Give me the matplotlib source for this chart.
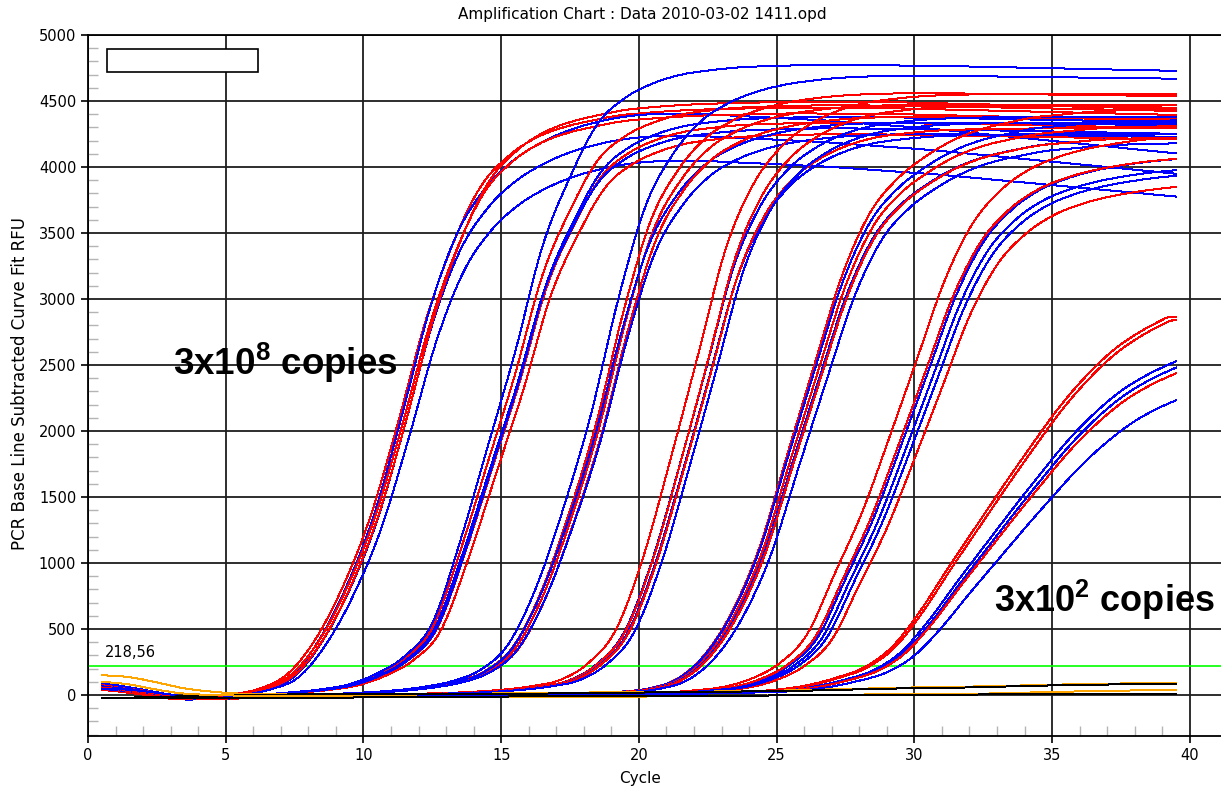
import numpy as np
import matplotlib
matplotlib.use("Agg")
import matplotlib.pyplot as plt
from matplotlib.patches import Rectangle

plt.rcParams['font.family'] = ['DejaVu Sans']
plt.rcParams['mathtext.fontset'] = 'custom'
plt.rcParams['mathtext.bf'] = 'Liberation Sans:bold'
plt.rcParams['mathtext.rm'] = 'Liberation Sans:bold'
plt.rcParams['mathtext.default'] = 'bf'

# positions des cycles (courbes tracées de 0.5 à 39.5)
cycles = np.arange(0.5, 40.0, 1.0)

# courbes type (une par dilution)
fam1_red = [75, 50, 10, -25, -20, 5, 50, 160, 420, 820, 1350, 2060, 2830, 3420, 3850, 4080, 4220, 4300, 4350, 4390,
            4410, 4425, 4435, 4440, 4445, 4450, 4450, 4450, 4448, 4445, 4440, 4435, 4430, 4425, 4420, 4415, 4410, 4405, 4400, 4395]
fam1_blue = [90, 55, 15, -30, -25, 0, 45, 140, 400, 790, 1310, 2020, 2780, 3330, 3650, 3850, 3980, 4070, 4130, 4170,
             4190, 4195, 4190, 4180, 4170, 4160, 4150, 4135, 4120, 4105, 4090, 4070, 4050, 4030, 4010, 3990, 3970, 3950, 3930, 3910]
fam2 = [60, 40, 5, -30, -25, -10, 5, 20, 40, 75, 150, 270, 500, 1060, 1720, 2380, 3120, 3600, 3970, 4150,
        4250, 4310, 4340, 4360, 4370, 4375, 4380, 4380, 4378, 4375, 4372, 4370, 4366, 4362, 4358, 4354, 4350, 4346, 4342, 4338]
fam3 = [50, 35, 0, -30, -30, -15, -5, 0, 5, 10, 20, 35, 60, 100, 180, 360, 760, 1330, 2000, 2830,
        3500, 3870, 4100, 4230, 4310, 4360, 4390, 4410, 4420, 4425, 4425, 4425, 4422, 4420, 4418, 4415, 4412, 4410, 4408, 4405]
fam4 = [40, 30, 0, -30, -30, -20, -10, -5, 0, 0, 5, 5, 10, 15, 25, 40, 65, 110, 230, 470,
        1000, 1720, 2480, 3250, 3720, 3990, 4150, 4250, 4310, 4340, 4360, 4370, 4375, 4378, 4380, 4380, 4380, 4380, 4380, 4380]
fam5 = [50, 30, 0, -25, -25, -20, -15, -10, -5, 0, 0, 0, 5, 5, 5, 5, 10, 10, 15, 25,
        50, 120, 300, 620, 1100, 1780, 2450, 3100, 3550, 3800, 3960, 4080, 4160, 4210, 4250, 4270, 4290, 4300, 4305, 4310]
fam6 = [45, 25, 0, -30, -25, -20, -15, -10, -5, -5, 0, 0, 0, 5, 5, 5, 5, 10, 10, 10,
        15, 20, 35, 60, 120, 230, 440, 880, 1330, 1880, 2450, 3020, 3430, 3670, 3820, 3910, 3970, 4010, 4040, 4060]
fam7 = [55, 35, 5, -25, -30, -25, -20, -15, -10, -5, -5, 0, 0, 0, 0, 5, 5, 5, 5, 10,
        10, 10, 15, 20, 25, 40, 70, 120, 190, 330, 570, 860, 1140, 1420, 1690, 1950, 2170, 2350, 2480, 2580]

red_templates = [fam1_red, fam2, fam3, fam4, fam5, fam6, fam7]
blue_templates = [fam1_blue, fam2, fam3, fam4, fam5, fam6, fam7]

# décalage (cycles) et facteur de plateau de chaque puits
red_shifts = [[-0.25, -0.1, 0.05], [0.0, 0.15, 0.3], [-0.05, 0.05, 0.15], [-0.35, 0.0, 0.1],
              [-0.1, 0.0, 0.1], [-0.4, -0.1, 0.5], [-0.3, -0.2, 0.15]]
red_scales = [[1.0, 0.99, 1.01], [1.02, 0.99, 0.97], [1.03, 1.01, 0.99], [1.04, 1.02, 0.98],
              [1.03, 1.0, 0.98], [1.04, 1.0, 0.95], [1.11, 1.10, 0.95]]
blue_shifts = [[-0.1, 0.0, 0.15], [0.0, 0.05, 0.15], [-0.25, -0.1, 0.1], [-0.05, 0.05, 0.3],
               [-0.1, 0.05, 0.3], [0.0, 0.15, 0.3], [0.0, 0.1, 0.45]]
blue_scales = [[1.05, 1.01, 0.965], [1.09, 0.98, 1.0], [1.06, 0.98, 0.96], [1.0, 0.97, 0.99],
               [1.01, 0.98, 0.97], [1.0, 0.98, 0.97], [0.98, 0.965, 0.88]]

# témoins négatifs
orange_a = [150, 135, 95, 50, 25, 10, 5, 5, 5, 5, 5, 10, 10, 10, 10, 15, 15, 15, 20, 20,
            20, 25, 25, 30, 30, 35, 40, 45, 50, 55, 60, 62, 65, 70, 75, 80, 84, 87, 89, 90]
black_a = [-20, -20, -15, -10, -5, 0, 0, 5, 5, 5, 5, 5, 10, 10, 10, 10, 10, 15, 15, 15,
           20, 20, 25, 25, 30, 30, 35, 40, 45, 50, 50, 55, 60, 65, 70, 75, 78, 80, 83, 85]
orange_b = [100, 80, 40, 10, 0, -5, -5, -10, -10, -10, -10, -10, -15, -15, -15, -15, -15, -15, -15, -15,
            -10, -10, -10, -5, -5, 0, 0, 0, 5, 5, 5, 10, 10, 15, 20, 25, 30, 33, 36, 38]
black_b = [-25, -25, -25, -25, -25, -20, -20, -20, -20, -20, -15, -15, -15, -15, -15, -10, -10, -10, -10, -10,
           -5, -5, -5, -5, -5, 0, 0, 0, 0, 0, 0, 0, 5, 5, 5, 5, 5, 5, 5, 5]

threshold = 218.56


def smooth(y, n=8):
    # lissage Catmull-Rom entre les points lus, pour le tracé seulement
    y = np.asarray(y, dtype=float)
    p = np.concatenate([[2 * y[0] - y[1]], y, [2 * y[-1] - y[-2]]])
    t = np.linspace(0, 1, n, endpoint=False)[:, None]
    p0, p1, p2, p3 = p[:-3], p[1:-2], p[2:-1], p[3:]
    seg = 0.5 * (2 * p1 + (p2 - p0) * t + (2 * p0 - 5 * p1 + 4 * p2 - p3) * t ** 2
                 + (3 * p1 - p0 - 3 * p2 + p3) * t ** 3)
    yf = np.append(seg.T.ravel(), y[-1])
    xf = cycles[0] + np.arange(len(yf)) / n
    return xf, yf


def well(template, shift, scale):
    xf, yf = smooth(template)
    return xf, np.interp(xf - shift, xf, yf) * scale


fig = plt.figure(figsize=(12.21, 7.88), dpi=100)
ax = fig.add_axes([88 / 1221, 52 / 788, 1133 / 1221, 701 / 788])

LW = 0.72
for i in range(7):
    for k in range(3):
        x, y = well(red_templates[i], red_shifts[i][k], red_scales[i][k])
        ax.plot(x, y, color='#ff0000', lw=LW, antialiased=False, zorder=3)
        x, y = well(blue_templates[i], blue_shifts[i][k], blue_scales[i][k])
        ax.plot(x, y, color='#0000ff', lw=LW, antialiased=False, zorder=3)

for serie, col in [(orange_a, '#ffa500'), (black_a, 'black'), (orange_b, '#ffa500'), (black_b, 'black')]:
    x, y = smooth(serie)
    ax.plot(x, y, color=col, lw=LW, antialiased=False, zorder=4)

# seuil
ax.axhline(threshold, color='#00ff00', lw=1.2, zorder=2)
ax.text(0.6, 265, '218,56', fontsize=10.5, va='bottom', ha='left')

ax.set_xlim(0, 41.13)
ax.set_ylim(-311, 5000)
ax.set_xticks(np.arange(0, 41, 5))
ax.set_xticks(np.arange(0, 41, 1), minor=True)
ax.set_yticks(np.arange(0, 5001, 500))
ax.set_yticks(np.arange(-300, 5000, 100), minor=True)
ax.tick_params(which='major', direction='out', length=5, width=1.2, labelsize=10.5)
ax.tick_params(which='minor', direction='in', length=7, width=1, color='#b4b4b4')
ax.grid(which='major', color='#1e1e1e', lw=1.3, zorder=1)
ax.set_axisbelow(True)
for side in ['left', 'top', 'bottom']:
    ax.spines[side].set_linewidth(1.3)
ax.spines['right'].set_visible(False)

# cadre de légende vide
ax.add_patch(Rectangle((0.0168, 0.947), 0.133, 0.033, transform=ax.transAxes,
                       fc='white', ec='black', lw=1.2, zorder=6))

# annotations
ax.text(3.09, 2426, '3x10$^{8}$ copies', family='Liberation Sans', fontsize=26.5,
        fontweight='bold', ha='left', va='baseline', zorder=7)
ax.text(32.9, 629, '3x10$^{2}$ copies', family='Liberation Sans', fontsize=26,
        fontweight='bold', ha='left', va='baseline', zorder=7)

fig.text(642 / 1221, 1 - 15 / 788, 'Amplification Chart : Data 2010-03-02 1411.opd',
         ha='center', va='center', fontsize=11)
fig.text(640 / 1221, 1 - 778 / 788, 'Cycle', ha='center', va='center', fontsize=11)
fig.text(20 / 1221, 1 - 383 / 788, 'PCR Base Line Subtracted Curve Fit RFU',
         ha='center', va='center', rotation=90, fontsize=12)

fig.savefig('out.png', dpi=100)
